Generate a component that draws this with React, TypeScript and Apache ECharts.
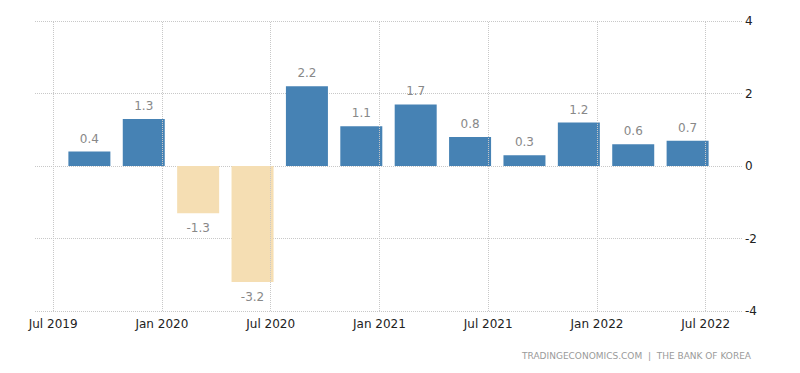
import React, { useEffect, useRef } from "react";
import * as echarts from "echarts";

// Quarterly GDP growth (QoQ %), Q3 2019 .. Q2 2022
const quarters = [
  "Q3 2019", "Q4 2019", "Q1 2020", "Q2 2020", "Q3 2020", "Q4 2020",
  "Q1 2021", "Q2 2021", "Q3 2021", "Q4 2021", "Q1 2022", "Q2 2022",
];
const values = [0.4, 1.3, -1.3, -3.2, 2.2, 1.1, 1.7, 0.8, 0.3, 1.2, 0.6, 0.7];
// position of each bar in months after Jul 2019
const barMonths = [2, 5, 8, 11, 14, 17, 20, 23, 26, 29, 32, 35];
const tickLabels = ["Jul 2019", "Jan 2020", "Jul 2020", "Jan 2021", "Jul 2021", "Jan 2022", "Jul 2022"];
const tickMonths = [0, 6, 12, 18, 24, 30, 36];
const yTicks = [-4, -2, 0, 2, 4];

export default function App() {
  const ref = useRef<HTMLDivElement>(null);
  useEffect(() => {
    if (!ref.current) return;
    const chart = echarts.init(ref.current, null, { renderer: "svg" });
    const font = "DejaVu Sans";
    const data = values.map((v, i) => ({
      value: [barMonths[i], v],
      name: quarters[i],
      itemStyle: { color: v >= 0 ? "#4682B4" : "#F5DEB3" },
      label: { position: v >= 0 ? "top" : "bottom", distance: v >= 0 ? 7 : 9 },
    }));
    chart.setOption({
      animation: false,
      grid: { left: 35, right: 58, top: 21, bottom: 62 },
      xAxis: {
        type: "value",
        min: -1,
        max: 38,
        axisLine: { show: false },
        axisTick: { show: false, customValues: tickMonths },
        splitLine: { show: false },
        axisLabel: {
          customValues: tickMonths,
          margin: 7,
          color: "#222",
          fontFamily: font,
          fontSize: 12,
          formatter: (v: number) => {
            const idx = tickMonths.indexOf(Math.round(v));
            return idx >= 0 ? tickLabels[idx] : "";
          },
        },
      },
      yAxis: {
        type: "value",
        position: "right",
        min: yTicks[0],
        max: yTicks[yTicks.length - 1],
        interval: 2,
        axisLine: { show: false },
        axisTick: { show: false },
        axisLabel: { margin: 3, color: "#222", fontFamily: font, fontSize: 12 },
        splitLine: { show: true, lineStyle: { color: "#c8c8c8", type: [1, 1], width: 1 } },
      },
      graphic: [
        {
          type: "text",
          right: 49,
          top: 351,
          style: {
            text: "TRADINGECONOMICS.COM  |  THE BANK OF KOREA",
            fill: "#9a9a9a",
            font: `9px "${font}"`,
          },
        },
      ],
      series: [
        {
          type: "bar",
          barWidth: 42,
          data,
          label: {
            show: true,
            color: "#888",
            fontFamily: font,
            fontSize: 12,
            formatter: (p: any) => String(p.value[1]),
          },
          markLine: {
            silent: true,
            symbol: "none",
            label: { show: false },
            lineStyle: { color: "#c8c8c8", type: [1, 1], width: 1 },
            data: tickMonths.map((m) => ({ xAxis: m })),
          },
        },
      ],
    });
    return () => chart.dispose();
  }, []);
  return (
    <div
      ref={ref}
      style={{ position: "fixed", left: 0, top: 0, width: 800, height: 373, background: "#fff" }}
    />
  );
}
